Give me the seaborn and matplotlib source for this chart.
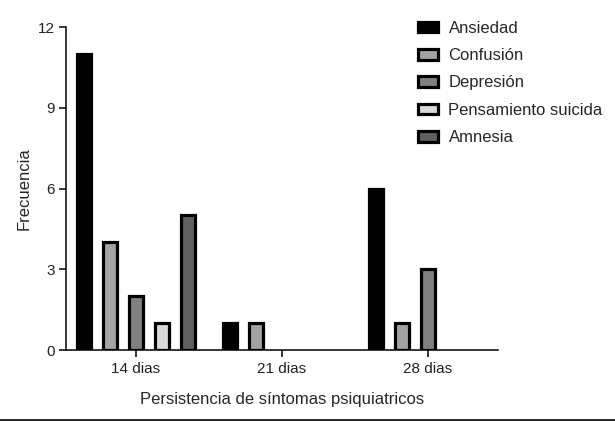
import numpy as np
import pandas as pd
import seaborn as sns
import matplotlib.pyplot as plt
from matplotlib.lines import Line2D

## data
periodos = ["14 dias", "21 dias", "28 dias"]
sintomas = ["Ansiedad", "Confusión", "Depresión", "Pensamiento suicida", "Amnesia"]
ansiedad = [11, 1, 6]
confusion = [4, 1, 1]
depresion = [2, 0, 3]
pensamiento = [1, 0, 0]
amnesia = [5, 0, 0]
colores = ["#000000", "#a3a3a3", "#808080", "#d9d9d9", "#606060"]

df = pd.DataFrame({"Periodo": periodos * 5,
                   "Sintoma": np.repeat(sintomas, 3),
                   "Frecuencia": ansiedad + confusion + depresion + pensamiento + amnesia})
# zero bars are not drawn in the original
df = df[df["Frecuencia"] > 0]

## plot figure
sns.set_style("ticks")
plt.rcParams["font.family"] = ["Liberation Sans", "DejaVu Sans"]
plt.rcParams["font.size"] = 11

fig = plt.figure(figsize=(6.15, 4.21), dpi=100)
ax = fig.add_axes([0.1081, 0.1686, 0.7019, 0.7672])

sns.barplot(data=df, x="Periodo", y="Frecuencia", hue="Sintoma",
            order=periodos, hue_order=sintomas, palette=colores,
            width=0.89, gap=0.44, edgecolor="black", linewidth=2.3,
            ax=ax, legend=True)

ax.set_xlim(-0.476, 2.48)
ax.set_ylim(0, 12)
ax.set_yticks([0, 3, 6, 9, 12])
ax.set_xlabel("Persistencia de síntomas psiquiatricos", fontsize=12, labelpad=12)
ax.set_ylabel("Frecuencia", fontsize=12, labelpad=4)
sns.despine(ax=ax)
for s in ["left", "bottom"]:
    ax.spines[s].set_linewidth(1.1)
    ax.spines[s].set_color("black")
ax.tick_params(axis="both", colors="black", labelcolor="#222222", width=1.1,
               length=5, labelsize=11)

leg = ax.legend(loc="upper left", bbox_to_anchor=(0.8, 1.04), frameon=False,
                fontsize=12, handlelength=1.2, handleheight=0.6,
                labelspacing=0.74, handletextpad=0.6, borderaxespad=0)

fig.add_artist(Line2D([0, 1], [0.003, 0.003], transform=fig.transFigure,
                      color="black", lw=1.2))

plt.savefig("out.png", dpi=100)
